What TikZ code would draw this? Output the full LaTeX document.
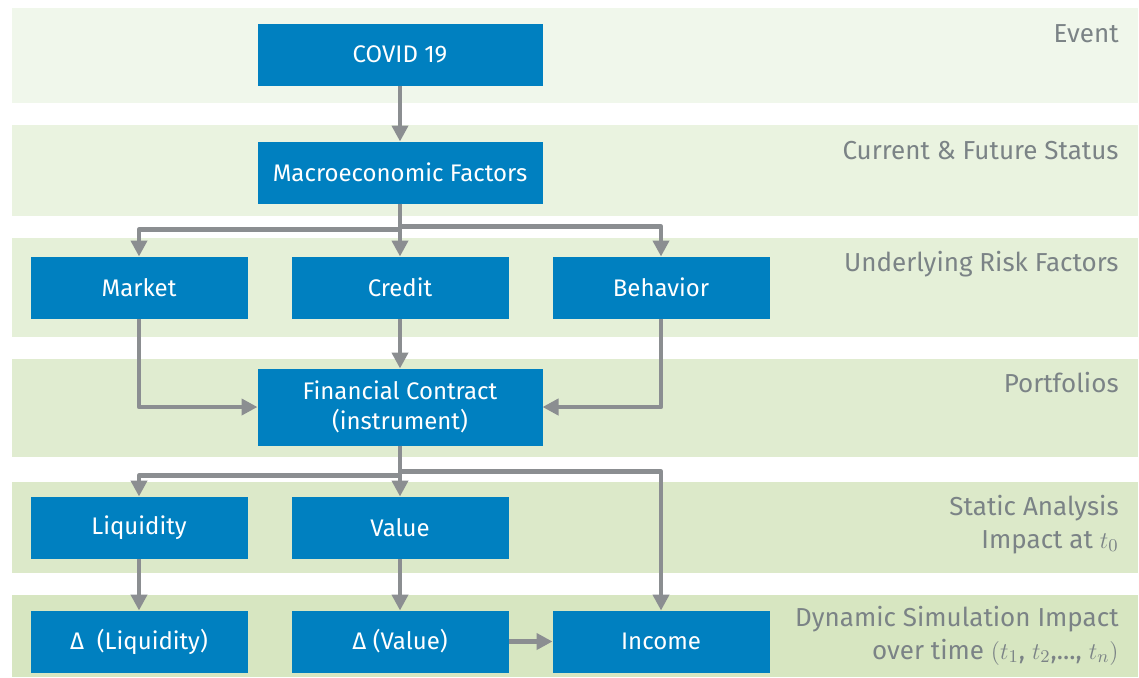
\documentclass[tikz,border=0pt]{standalone}
\usepackage{fontspec}
\setmainfont{Fira Sans}
\usetikzlibrary{positioning,arrows.meta}
\definecolor{boxblue}{HTML}{0080C0}
\definecolor{arrowgray}{HTML}{8B8E91}
\definecolor{labelgray}{HTML}{7B8386}
\definecolor{bandA}{HTML}{F0F7EB}
\definecolor{bandB}{HTML}{EAF3E0}
\definecolor{bandC}{HTML}{E5F0D8}
\definecolor{bandD}{HTML}{E0ECD0}
\definecolor{bandE}{HTML}{DCE9C9}
\definecolor{bandF}{HTML}{D7E6C1}

\begin{document}
\begin{tikzpicture}[x=0.5pt, y=-0.5pt,
  box/.style={fill=boxblue, text=white, minimum width=108.5pt, minimum height=31pt, inner sep=0pt, outer sep=0pt, font=\fontsize{12}{15}\selectfont, align=center},
  wide/.style={box, minimum width=142.5pt},
  conn/.style={draw=arrowgray, line width=2.2pt, line join=round, -{Triangle[width=8pt,length=8pt]}},
  layer/.style={anchor=base east, text=labelgray, font=\fontsize{13}{16.5}\selectfont, align=right, inner sep=0pt}]
\useasboundingbox (0,0) rectangle (1139,677);
%bands
\fill[bandA](12,8) rectangle (1138,103);
\fill[bandB](12,125) rectangle (1138,216);
\fill[bandC](12,238) rectangle (1138,337);
\fill[bandD](12,359) rectangle (1138,457);
\fill[bandE](12,482) rectangle (1138,573);
\fill[bandF](12,595) rectangle (1138,677);
\node[layer](event) at (1119,42){Event};
\node[layer](status) at (1119,159){Current \& Future Status};
\node[layer](risk) at (1119,271){Underlying Risk Factors};
\node[layer](portfolios) at (1119,392){Portfolios};
\node[layer](static) at (1119,548){Static Analysis\\Impact at $t_0$};
\node[layer](dynamic) at (1119,659){Dynamic Simulation Impact\\over time $(t_1$, $t_2$,..., $t_n)$};
%boxes
\node[wide](covid) at (400,54.5){COVID 19};
\node[wide, below = 28pt of covid](macro){Macroeconomic Factors};
\node[box, below = 26.5pt of macro](credit){Credit};
\node[box, left = 22pt of credit](market){Market};
\node[box, right = 22pt of credit](behavior){Behavior};
\node[wide, below = 25pt of credit, minimum height=38.5pt](contract){Financial Contract\\(instrument)};
\node[box, below = 25.5pt of contract](value){Value};
\node[box, left = 22pt of value](liquidity){Liquidity};
\node[box, below = 26pt of value](dvalue){Δ (Value)};
\node[box, left = 22pt of dvalue](dliquidity){Δ\ \ (Liquidity)};
\node[box, right = 22pt of dvalue](income){Income};
%path
\path[conn](covid)--(macro);
\path[conn](macro.south)--++(0,26)-|(market.north);
\path[conn](macro)--(credit);
\path[conn](macro.south)--++(0,23)-|(behavior.north);
\path[conn](market.south)|-(contract.west);
\path[conn](credit)--(contract);
\path[conn](behavior.south)|-(contract.east);
\path[conn](contract.south)--++(0,30)-|(liquidity.north);
\path[conn](contract)--(value);
\path[conn](contract.south)--++(0,26)-|(income.north);
\path[conn](liquidity)--(dliquidity);
\path[conn](value)--(dvalue);
\path[conn](dvalue)--(income);
\end{tikzpicture}
\end{document}
